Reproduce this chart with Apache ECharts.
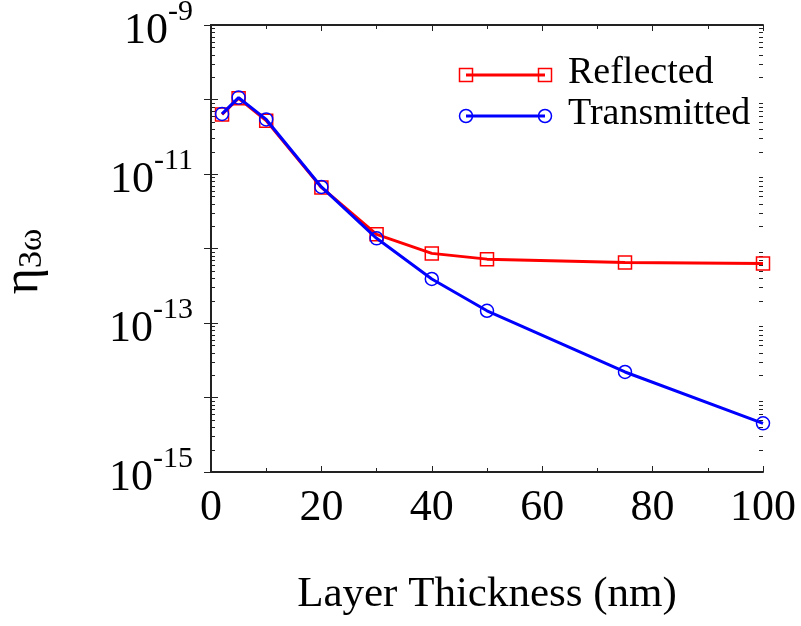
<!DOCTYPE html>
<html>
<head>
<meta charset="utf-8">
<script src="https://cdn.jsdelivr.net/npm/echarts@6/dist/echarts.min.js"></script>
<style>
  html, body { margin: 0; background: #fff; }
  #main { width: 801px; height: 626px; }
</style>
</head>
<body>
<div id="main"></div>
<script>
const chartDom = document.getElementById('main');
const myChart = echarts.init(chartDom);

// Layer thickness (nm) and third-harmonic efficiency
const thickness = [2, 5, 10, 20, 30, 40, 50, 75, 100];
const reflected = [6.3e-11, 1.04e-10, 5.2e-11, 6.6e-12, 1.55e-12, 8.6e-13, 7.2e-13, 6.5e-13, 6.3e-13];
const transmitted = [6.4e-11, 1.06e-10, 5.4e-11, 6.7e-12, 1.37e-12, 3.9e-13, 1.46e-13, 2.2e-14, 4.5e-15];

// only every second decade gets a label
const yLabelExponents = [-15, -13, -11, -9];

const seriesNames = ['Reflected', 'Transmitted'];
const seriesColors = ['#ff0000', '#0000ff'];

const FONT = '"Liberation Serif", "DejaVu Serif", serif';
const AXIS_COLOR = '#222';

const pairs = (ys) => thickness.map((x, i) => [x, ys[i]]);

const baseX = {
    type: 'value',
    min: 0,
    max: 100,
    interval: 20,
    axisLine: { lineStyle: { color: AXIS_COLOR, width: 2 } },
    axisTick: { inside: true, length: 6, lineStyle: { color: AXIS_COLOR, width: 1 } },
    minorTick: { show: true, splitNumber: 2, length: 4, lineStyle: { color: AXIS_COLOR, width: 1 } },
    splitLine: { show: false }
};

const baseY = {
    type: 'log',
    logBase: 10,
    min: 1e-15,
    max: 1e-9,
    axisLine: { lineStyle: { color: AXIS_COLOR, width: 2 } },
    axisTick: { inside: true, length: 7, lineStyle: { color: AXIS_COLOR, width: 1 } },
    splitLine: { show: false }
};

const option = {
    backgroundColor: '#fff',
    animation: false,
    grid: { left: 211, right: 38, top: 25, bottom: 154, containLabel: false, outerBoundsMode: 'none' },
    xAxis: [
        Object.assign({}, baseX, {
            position: 'bottom',
            name: 'Layer Thickness (nm)',
            nameLocation: 'middle',
            nameGap: 101,
            nameTextStyle: { fontFamily: FONT, fontSize: 43, color: '#000' },
            axisLabel: { fontFamily: FONT, fontSize: 44, color: '#000', margin: 14 }
        }),
        Object.assign({}, baseX, { position: 'top', axisLabel: { show: false } })
    ],
    yAxis: [
        Object.assign({}, baseY, {
            position: 'left',
            name: '{a|η}{b|3ω}',
            nameLocation: 'middle',
            nameRotate: 90,
            nameGap: 162,
            nameTextStyle: {
                padding: [0, 26, 0, 0],
                rich: {
                    a: { fontFamily: FONT, fontSize: 50, color: '#000' },
                    b: { fontFamily: FONT, fontSize: 34, color: '#000', verticalAlign: 'bottom', padding: [14, 0, 0, 0] }
                }
            },
            axisLabel: {
                margin: 18,
                formatter: (v) => {
                    const e = Math.round(Math.log10(v));
                    return yLabelExponents.indexOf(e) >= 0 ? '{b|10}{s|' + e + '}' : '';
                },
                rich: {
                    b: { fontFamily: FONT, fontSize: 44, color: '#000', padding: [12, 0, 0, 0] },
                    s: { fontFamily: FONT, fontSize: 30, color: '#000', verticalAlign: 'top' }
                }
            }
        }),
        Object.assign({}, baseY, { position: 'right', axisLabel: { show: false } })
    ],
    series: seriesNames.map((name, i) => ({
        name: name,
        type: 'line',
        data: pairs(i === 0 ? reflected : transmitted),
        symbol: i === 0 ? 'rect' : 'circle',
        symbolSize: 13,
        lineStyle: { color: seriesColors[i], width: 3 },
        itemStyle: { color: 'rgba(0,0,0,0)', borderColor: seriesColors[i], borderWidth: 1.5 },
        z: 2 + i
    }))
};

myChart.setOption(option);

// log minor ticks (2..9 in each decade) on both y sides, and the legend
const xl = myChart.convertToPixel({ xAxisIndex: 0 }, 0);
const xr = myChart.convertToPixel({ xAxisIndex: 0 }, 100);
const extras = [];
for (let e = -15; e < -9; e++) {
    for (let k = 2; k <= 9; k++) {
        const y = Math.round(myChart.convertToPixel({ yAxisIndex: 0 }, k * Math.pow(10, e))) + 0.5;
        extras.push({ type: 'line', shape: { x1: xl, y1: y, x2: xl + 4, y2: y }, style: { stroke: AXIS_COLOR, lineWidth: 1 } });
        extras.push({ type: 'line', shape: { x1: xr, y1: y, x2: xr - 4, y2: y }, style: { stroke: AXIS_COLOR, lineWidth: 1 } });
    }
}

const legendRows = [75, 116];
seriesNames.forEach((name, i) => {
    const y = legendRows[i];
    const c = seriesColors[i];
    extras.push({ type: 'line', shape: { x1: 466, y1: y, x2: 545, y2: y }, style: { stroke: c, lineWidth: 3 } });
    [466, 545].forEach((x) => {
        if (i === 0) {
            extras.push({ type: 'rect', shape: { x: x - 6.5, y: y - 6.5, width: 13, height: 13 }, style: { fill: 'none', stroke: c, lineWidth: 1.5 } });
        } else {
            extras.push({ type: 'circle', shape: { cx: x, cy: y, r: 6.5 }, style: { fill: 'none', stroke: c, lineWidth: 1.5 } });
        }
    });
    extras.push({
        type: 'text', x: 568, y: y - 2,
        style: { text: name, fontFamily: FONT, fontSize: 38, fill: '#000', verticalAlign: 'middle', align: 'left' }
    });
});

myChart.setOption({ graphic: extras });
window.onresize = () => myChart.resize();
</script>
</body>
</html>
